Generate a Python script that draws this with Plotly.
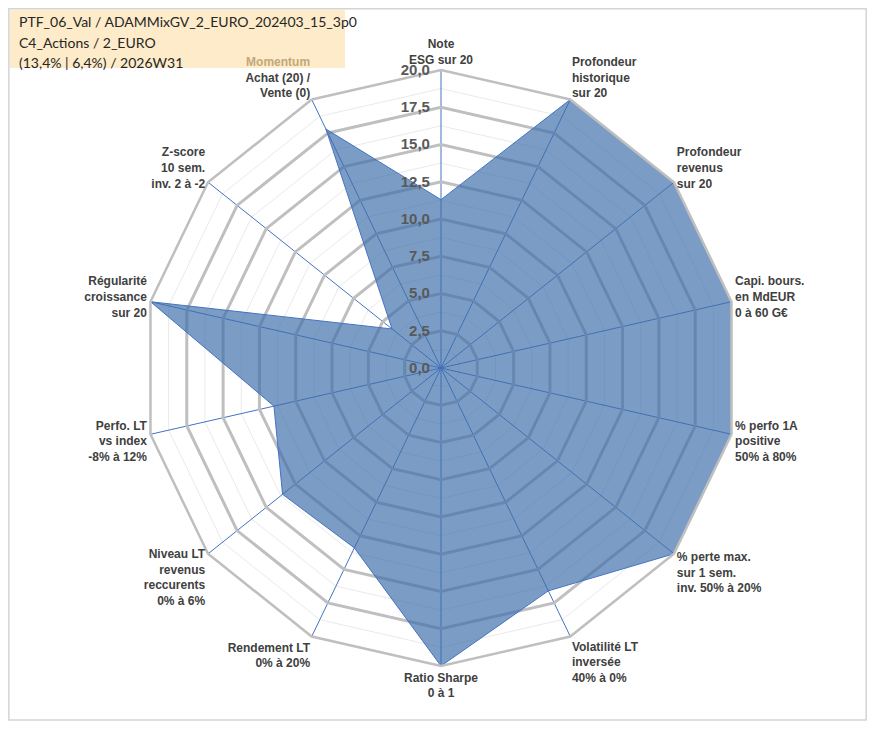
import plotly.graph_objects as go

# axes of the radar, clockwise from the top
axes = ["Note ESG", "Profondeur historique", "Profondeur revenus", "Capi. bours.",
        "% perfo 1A", "% perte max.", "Volatilité LT", "Ratio Sharpe",
        "Rendement LT", "Niveau LT revenus", "Perfo. LT", "Régularité",
        "Z-score", "Momentum"]

axis_labels = [
    "Note<br>ESG sur 20",
    "Profondeur<br>historique<br>sur 20",
    "Profondeur<br>revenus<br>sur 20",
    "Capi. bours.<br>en MdEUR<br>0 à 60 G€",
    "% perfo 1A<br>positive<br>50% à 80%",
    "% perte max.<br>sur 1 sem.<br>inv. 50% à 20%",
    "Volatilité LT<br>inversée<br>40% à 0%",
    "Ratio Sharpe<br>0 à 1",
    "Rendement LT<br>0% à 20%",
    "Niveau LT<br>revenus<br>reccurents<br>0% à 6%",
    "Perfo. LT<br>vs index<br>-8% à 12%",
    "Régularité<br>croissance<br>sur 20",
    "Z-score<br>10 sem.<br>inv. 2 à -2",
    "<span style='color:#C2A878'>Momentum</span><br>Achat (20) /<br>Vente (0)",
]

scores = [11.3, 20, 20, 20, 20, 20, 16.6, 20, 13.4, 13.6, 11.5, 20, 4.2, 17.8]

major_ticks = [0, 2.5, 5, 7.5, 10, 12.5, 15, 17.5, 20]
major_text = ["0,0", "2,5", "5,0", "7,5", "10,0", "12,5", "15,0", "17,5", "20,0"]
minor_ticks = [1.25, 3.75, 6.25, 8.75, 11.25, 13.75, 16.25, 18.75]

title_lines = ["PTF_06_Val / ADAMMixGV_2_EURO_202403_15_3p0",
               "C4_Actions / 2_EURO",
               "(13,4% | 6,4%) / 2026W31"]

# the page has an 8px body margin, so the figure is 859x713 starting at (8, 8)
W, H, OX, OY = 859, 713, 8, 8


def px(x):
    return (x - OX) / W


def py(y):
    return 1 - (y - OY) / H


cx, cy, rad = 441, 368, 298  # centre and radius in page pixels

fig = go.Figure()

# invisible trace so the minor-grid polar gets its categories
fig.add_trace(go.Scatterpolar(r=[0] * len(axes), theta=axes, mode="lines",
                              line=dict(width=0), hoverinfo="skip",
                              showlegend=False, subplot="polar"))

fig.add_trace(go.Scatterpolar(
    r=scores + scores[:1], theta=axes + axes[:1],
    mode="lines", fill="toself",
    fillcolor="rgba(60,110,170,0.68)",
    line=dict(color="#4472C4", width=1),
    hoverinfo="skip", showlegend=False, subplot="polar2"))

dom = dict(x=[px(cx - rad), px(cx + rad)], y=[py(cy + rad), py(cy - rad)])

fig.update_layout(
    margin=dict(l=0, r=0, t=0, b=0),
    paper_bgcolor="white",
    polar=dict(
        domain=dom, gridshape="linear", bgcolor="white",
        radialaxis=dict(range=[0, 20], tickvals=minor_ticks, showticklabels=False,
                        ticks="", showline=False, gridcolor="#EAEAEA", gridwidth=1),
        angularaxis=dict(type="category", categoryarray=axes, direction="clockwise",
                         rotation=90, showgrid=False, showticklabels=False,
                         ticks="", showline=False),
    ),
    polar2=dict(
        domain=dom, gridshape="linear", bgcolor="rgba(0,0,0,0)",
        radialaxis=dict(range=[0, 20], tickvals=major_ticks,
                        ticktext=[t + "\u00a0\u00a0" for t in major_text],
                        angle=90, tickangle=90, side="counterclockwise",
                        showline=False, ticks="", gridcolor="#BFBFBF", gridwidth=2.5,
                        tickfont=dict(family="Liberation Sans", size=15,
                                      color="#595959", weight="bold")),
        angularaxis=dict(type="category", categoryarray=axes, direction="clockwise",
                         rotation=90, tickmode="array", tickvals=axes,
                         ticktext=axis_labels, ticks="",
                         gridcolor="#4472C4", gridwidth=1,
                         linecolor="#BFBFBF", linewidth=2.5,
                         tickfont=dict(family="Liberation Sans", size=12,
                                       color="#404040", weight="bold")),
    ),
)

# title box in the top-left corner
fig.add_shape(type="rect", xref="paper", yref="paper",
              x0=px(10), x1=px(345), y0=py(68), y1=py(10),
              fillcolor="#FDEBC9", line=dict(width=0), layer="below")
for i, line in enumerate(title_lines):
    fig.add_annotation(xref="paper", yref="paper", x=px(17), y=py(22 + 20.5 * i),
                       text=line, showarrow=False, xanchor="left", yanchor="middle",
                       font=dict(family="Lato", size=14, color="#262626"))

# chart frame
fig.add_shape(type="rect", xref="paper", yref="paper",
              x0=0.001, x1=0.999, y0=py(720), y1=0.999,
              line=dict(color="#D4D4D4", width=1.5), fillcolor="rgba(0,0,0,0)")

fig.write_html("out.html")
